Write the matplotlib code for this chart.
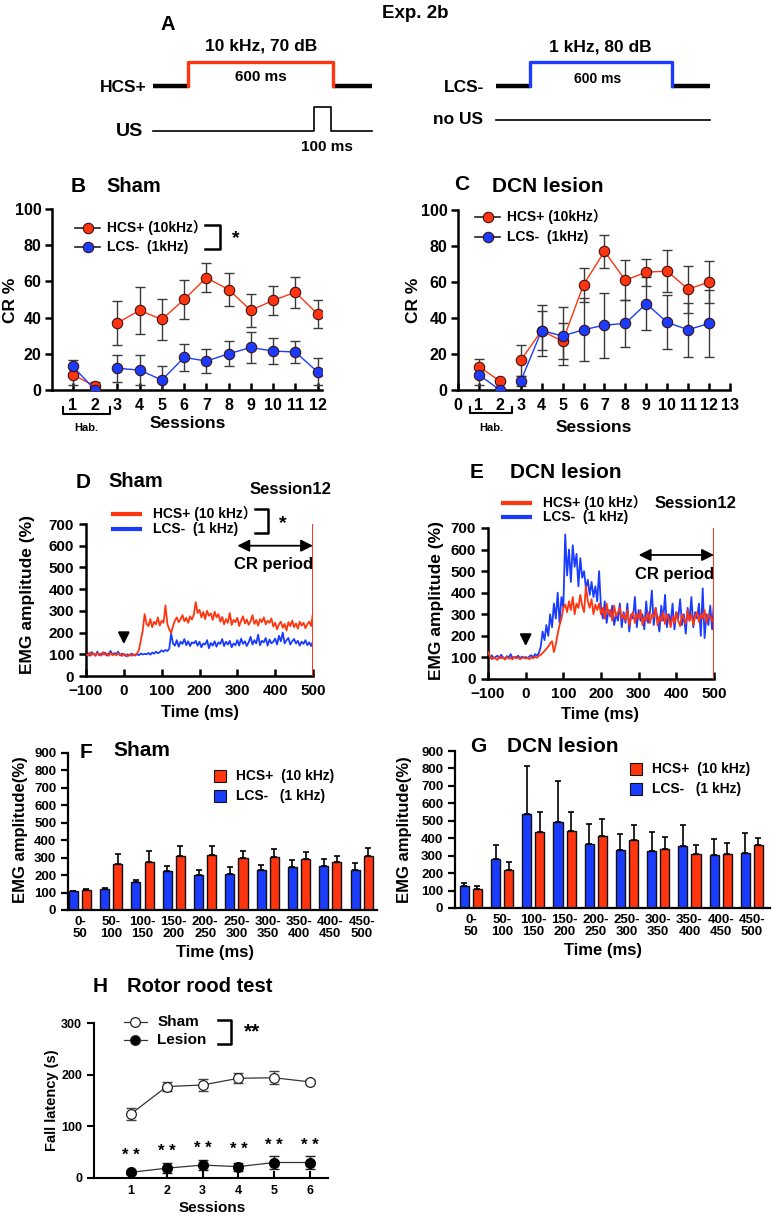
import matplotlib
matplotlib.use("Agg")
import matplotlib.pyplot as plt
from matplotlib.patches import Rectangle
import numpy as np

W, H = 772, 1217
RED = "#ff3510"
BLUE = "#1a3cff"

plt.rcParams["font.family"] = ["Liberation Sans", "Noto Sans CJK JP", "DejaVu Sans"]
plt.rcParams["font.weight"] = "bold"
plt.rcParams["axes.labelweight"] = "bold"

# --- A: stimulus timing (ms)
TONE_ON, TONE_OFF = 0, 600
US_ON, US_OFF = 520, 590
PRE, POST = 145, 160

# --- B / C: CR % per session
SESSIONS = list(range(1, 13))
SHAM_HCS = [8.5, 2, 37, 44, 39, 50, 62, 55.5, 44, 49.5, 54, 42]
SHAM_HCS_SE = [5.5, 2.5, 12, 13, 11.5, 10.5, 8, 9, 9, 8, 8.5, 7.5]
SHAM_LCS = [13, 0, 12, 11, 5.5, 18, 16, 20, 23.5, 21.5, 21, 10]
SHAM_LCS_SE = [3.5, 0, 7.5, 8.5, 7.5, 7.5, 6.5, 6.8, 8.5, 7, 6, 7.5]
DCN_HCS = [13, 5, 16.5, 33, 27, 58.5, 77, 61, 65.5, 66, 56, 60]
DCN_HCS_SE = [4, 0, 8.5, 14, 10, 9.5, 9, 11, 7.5, 11.5, 13, 11.5]
DCN_LCS = [8.5, 0, 5, 33, 30, 33.5, 36, 37, 48, 37.5, 33.5, 37]
DCN_LCS_SE = [5.5, 0, 3, 11, 16, 17.5, 18, 13, 14.5, 15, 15, 18.5]

# --- D / E: EMG traces, session 12, every 5 ms from -100 to 500
T = np.arange(-100, 505, 5)
D_HCS = [100, 95, 108, 97, 104, 92, 106, 99, 94, 110, 98, 103, 93, 107, 96, 101, 95, 105, 99, 92,
         102, 96, 90, 98, 93, 100, 97, 104,
         120, 165, 210, 285,
         240, 230, 262, 225, 250, 238, 270, 232, 255, 245, 325, 240, 215, 198,
         230, 255, 270, 248, 262, 280, 252, 268, 245, 275, 260, 282,
         340, 290, 305, 270, 295, 262, 300, 278, 288, 258, 296, 270, 285,
         250, 272, 238, 262, 245, 290, 235, 258, 248, 268, 230, 255, 275, 242, 260, 236, 252, 280,
         240, 258, 232, 262, 248, 270, 238, 255, 245, 265,
         228, 245, 215, 238, 250, 222, 240, 210, 248, 230, 255, 225, 242, 218, 250, 232, 245, 220,
         238, 250, 230,
         290]
D_LCS = [98, 105, 93, 110, 100, 96, 112, 95, 104, 99, 108, 94, 102, 115, 97, 106, 100, 112, 95, 103,
         98, 92, 100, 95, 103, 97, 94, 101, 96, 104, 99, 102,
         100, 106, 98, 108, 103, 112, 105, 110, 118, 112, 120, 115, 125,
         195, 150, 140, 165, 135, 158, 148, 170, 142, 160, 138, 155, 150,
         162, 140, 158, 132, 150, 145, 165, 128, 152, 140, 160, 135, 155, 148, 170, 138, 158, 145,
         162, 132, 150, 142, 165,
         140, 172, 148, 160, 138, 155, 180, 145, 165, 150, 190, 142, 162, 155, 175, 140, 168, 150,
         158, 172, 145, 185, 160, 200, 150, 165, 175, 145, 160, 170, 150, 162, 140, 158, 148, 165,
         142, 155, 138, 160]
E_HCS = [125, 105, 92, 100, 95, 88, 104, 96, 99, 90, 102, 94, 98, 91, 103, 95, 100, 92, 97, 101,
         95, 99, 92, 100, 96, 103, 98, 108, 112, 120,
         130, 140, 150, 165, 175, 125, 160, 210, 250, 280,
         330, 345, 310, 360, 320, 380, 300, 350, 330, 390, 340, 310, 430, 360, 330, 370, 300, 345,
         320, 350,
         300, 330, 280, 350, 300, 320, 270, 340, 290, 310, 330, 280,
         300, 270, 320, 250, 290, 310, 260, 300, 280, 320, 250, 290, 270, 310, 260, 300, 285, 330,
         250, 290, 270, 310, 255, 300, 280, 240, 290, 260, 310, 270, 245, 300, 280, 255, 320, 270,
         300, 250, 290, 310, 265, 300, 280, 320, 260, 300, 290, 270, 280]
E_LCS = [105, 98, 110, 95, 102, 108, 96, 112, 100, 94, 106, 99, 115, 97, 103, 100, 108, 95, 104, 98,
         102, 96, 105, 110, 100, 115, 108, 120,
         150, 220, 180, 250, 200, 300, 240, 350, 280, 400, 260, 380, 330,
         670, 480, 600, 450, 620, 520, 580, 430, 560, 470, 500, 420, 460, 390, 450, 380, 430, 360, 500,
         330, 280, 360, 260, 320, 290, 340, 250, 300, 270, 350, 240,
         310, 260, 350, 220, 300, 280, 380, 240, 320, 270, 300, 230, 360, 260, 310, 410, 250, 330,
         280, 220, 340, 270, 390, 240, 300, 260, 350, 230, 310, 280, 370, 250, 300, 210, 330, 270,
         380, 240, 310, 280, 350, 200, 420, 190, 300, 250, 340, 230, 360]

# --- F / G: mean EMG per 50 ms bin (upper SE)
BINS = ["0-\n50", "50-\n100", "100-\n150", "150-\n200", "200-\n250",
        "250-\n300", "300-\n350", "350-\n400", "400-\n450", "450-\n500"]
F_LCS = [107, 122, 158, 221, 200, 204, 229, 244, 251, 227]
F_LCS_SE = [2, 3, 13, 30, 29, 40, 28, 40, 44, 40]
F_HCS = [116, 263, 274, 309, 314, 297, 301, 290, 274, 307]
F_HCS_SE = [2, 57, 65, 57, 52, 44, 46, 40, 36, 51]
G_LCS = [128, 280, 538, 492, 366, 335, 326, 354, 305, 316]
G_LCS_SE = [14, 84, 276, 238, 115, 92, 111, 121, 93, 113]
G_HCS = [111, 215, 435, 443, 414, 387, 337, 307, 310, 360]
G_HCS_SE = [14, 47, 117, 109, 94, 86, 71, 55, 62, 44]

# --- H: rotor rod
ROTOR_SESSIONS = [1, 2, 3, 4, 5, 6]
ROTOR_SHAM = [124, 177, 180, 193, 194, 186]
ROTOR_SHAM_SE = [11.5, 9, 12, 10, 13, 3]
ROTOR_LESION = [11, 19, 25, 22, 30, 30]
ROTOR_LESION_SE = [3, 10, 9, 8, 12, 12]

fig = plt.figure(figsize=(W / 100, H / 100), dpi=100)


def px_axes(l, t, r, b):
    return fig.add_axes([l / W, 1 - b / H, (r - l) / W, (b - t) / H])


def ftext(x, y, s, **kw):
    kw.setdefault("va", "center")
    kw.setdefault("ha", "center")
    fig.text(x / W, 1 - y / H, s, **kw)


def style(ax, lw=1.8, ysize=10, xsize=10, xpad=3, ypad=3.5):
    for s in ["top", "right"]:
        ax.spines[s].set_visible(False)
    for s in ["left", "bottom"]:
        ax.spines[s].set_linewidth(lw)
    ax.tick_params(axis="y", direction="out", width=lw, length=5, labelsize=ysize, pad=ypad)
    ax.tick_params(axis="x", direction="in", width=lw, length=5, labelsize=xsize, pad=xpad)


# ================= A =================
axL = px_axes(140, 0, 380, 160)
axL.set_xlim(-198.6, 794.4)
axL.set_ylim(160, 0)
axL.axis("off")
axL.plot([-PRE, TONE_ON], [86, 86], "k", lw=3.2, solid_capstyle="butt")
axL.plot([TONE_OFF, TONE_OFF + POST], [86, 86], "k", lw=3.2, solid_capstyle="butt")
axL.plot([TONE_ON, TONE_ON, TONE_OFF, TONE_OFF], [86, 62, 62, 86], color=RED, lw=2.4)
axL.plot([-PRE, US_ON, US_ON, US_OFF, US_OFF, TONE_OFF + POST],
         [131, 131, 107, 107, 131, 131], "k", lw=1.2)

axR = px_axes(480, 0, 730, 160)
axR.set_xlim(-211.2, 845)
axR.set_ylim(160, 0)
axR.axis("off")
axR.plot([-PRE, TONE_ON], [86, 86], "k", lw=3.2, solid_capstyle="butt")
axR.plot([TONE_OFF, TONE_OFF + POST], [86, 86], "k", lw=3.2, solid_capstyle="butt")
axR.plot([TONE_ON, TONE_ON, TONE_OFF, TONE_OFF], [86, 62, 62, 86], color=BLUE, lw=2.4)
axR.plot([-PRE, TONE_OFF + POST], [120, 120], "k", lw=1.2)

ftext(415, 13, "Exp. 2b", fontsize=13.5)
ftext(168, 24, "A", fontsize=14.5)
ftext(261, 46, "10 kHz, 70 dB", fontsize=12.5)
ftext(261, 77, "600 ms", fontsize=11)
ftext(147, 88, "HCS+", fontsize=12.5, ha="right")
ftext(143, 132, "US", fontsize=14, ha="right")
ftext(327, 147, "100 ms", fontsize=11)
ftext(600, 47, "1 kHz, 80 dB", fontsize=12.5)
ftext(598, 79, "600 ms", fontsize=10)
ftext(484, 87, "LCS-", fontsize=12.5, ha="right")
ftext(483, 120, "no US", fontsize=12.5, ha="right")


# ================= B / C =================
def cr_panel(ax, hcs, hcs_se, lcs, lcs_se):
    for vals, se, col in [(hcs, hcs_se, RED), (lcs, lcs_se, BLUE)]:
        ax.errorbar(SESSIONS, vals, yerr=se, fmt="none", ecolor="#3a3a3a",
                    elinewidth=1, capsize=3.5, capthick=1, zorder=2)
        for sl in [slice(0, 2), slice(2, 12)]:
            ax.plot(SESSIONS[sl], vals[sl], "-o", color=col, lw=1, ms=7.5,
                    mfc=col, mec="#401010", mew=0.8, zorder=3)
    ax.set_ylim(0, 100)
    ax.set_yticks([0, 20, 40, 60, 80, 100])


def cr_legend(ax, x0, x1, ys, tx, labels):
    for y, col, lab in zip(ys, [RED, BLUE], labels):
        ax.plot([x0, x1], [y, y], color="#222", lw=1.2, transform=ax.transAxes, clip_on=False)
        ax.plot([(x0 + x1) / 2], [y], "o", ms=7.5, mfc=col, mec="#401010", mew=0.8,
                transform=ax.transAxes, clip_on=False)
        ax.text(tx, y, lab, transform=ax.transAxes, fontsize=10, va="center")


def hab(ax, x0, x1):
    tr = ax.get_xaxis_transform()
    ax.plot([x0, x0, x1, x1], [-0.095, -0.13, -0.13, -0.095], "k", lw=1.5,
            transform=tr, clip_on=False)
    ax.text((x0 + x1) / 2, -0.21, "Hab.", transform=tr, fontsize=8, ha="center", va="center")


axB = px_axes(52, 209, 322, 390)
style(axB, ysize=11.5, xsize=11.5, xpad=6, ypad=2.5)
cr_panel(axB, SHAM_HCS, SHAM_HCS_SE, SHAM_LCS, SHAM_LCS_SE)
axB.set_xlim(0.06, 12.2)
axB.set_xticks(SESSIONS)
cr_legend(axB, 0.085, 0.178, [0.895, 0.79], 0.205, ["HCS+ (10kHz）", "LCS-  (1kHz)"])
axB.plot([0.567, 0.622, 0.622, 0.567], [0.91, 0.91, 0.78, 0.78], "k", lw=1.8,
         transform=axB.transAxes, clip_on=False)
axB.text(0.665, 0.835, "*", transform=axB.transAxes, fontsize=14, va="center")
hab(axB, 0.57, 2.65)
ftext(78, 186, "B", fontsize=15)
ftext(106, 187, "Sham", fontsize=14.5, ha="left")
ftext(11, 300, "CR %", fontsize=12.5, rotation=90)
ftext(188, 424, "Sessions", fontsize=12.5)

axC = px_axes(458, 210, 730, 390)
style(axC, ysize=11.5, xsize=11.5, xpad=6, ypad=2.5)
cr_panel(axC, DCN_HCS, DCN_HCS_SE, DCN_LCS, DCN_LCS_SE)
axC.set_xlim(0, 13)
axC.set_xticks(range(0, 14))
cr_legend(axC, 0.062, 0.155, [0.961, 0.85], 0.18, ["HCS+ (10kHz）", "LCS-  (1kHz)"])
hab(axC, 0.57, 2.6)
ftext(462, 185, "C", fontsize=15)
ftext(492, 186, "DCN lesion", fontsize=15, ha="left")
ftext(414, 300, "CR %", fontsize=12.5, rotation=90)
ftext(594, 428, "Sessions", fontsize=12.5)


# ================= D / E =================
def emg_panel(ax, hcs, lcs, arrow_y):
    ax.plot(T, lcs, color=BLUE, lw=1.3, zorder=2)
    ax.plot(T, hcs, color=RED, lw=1.3, zorder=3)
    ax.axvline(500, color=RED, lw=1.4, zorder=3)
    ax.set_xlim(-100, 500)
    ax.set_ylim(0, 700)
    ax.set_xticks(range(-100, 501, 100))
    ax.set_yticks(range(0, 701, 100))
    ax.annotate("", xy=(0, arrow_y[0]), xytext=(0, arrow_y[1]),
                arrowprops=dict(arrowstyle="-|>", color="k", lw=1.5, mutation_scale=17))


def emg_legend(ax, x0, x1, ys, tx):
    for y, col, lab in zip(ys, [RED, BLUE], ["HCS+ (10 kHz）", "LCS-  (1 kHz)"]):
        ax.plot([x0, x1], [y, y], color=col, lw=3, transform=ax.transAxes, clip_on=False)
        ax.text(tx, y, lab, transform=ax.transAxes, fontsize=10, va="center")


def cr_period(ax, y, ty):
    ax.annotate("", xy=(300, y), xytext=(500, y),
                arrowprops=dict(arrowstyle="<|-|>", color="k", lw=1.3, mutation_scale=18,
                                shrinkA=0, shrinkB=0))
    ax.text(395, ty, "CR period", fontsize=12, ha="center", va="center")


axD = px_axes(86, 524, 313, 676)
style(axD, ysize=11, xsize=11, xpad=6)
emg_panel(axD, D_HCS, D_LCS, (134, 205))
emg_legend(axD, 0.119, 0.238, [1.066, 0.967], 0.295)
axD.plot([0.744, 0.802, 0.802, 0.744], [1.099, 1.099, 0.941, 0.941], "k", lw=1.8,
         transform=axD.transAxes, clip_on=False)
axD.text(0.85, 1.0, "*", transform=axD.transAxes, fontsize=14, va="center")
cr_period(axD, 600, 512)
ftext(83, 483, "D", fontsize=15)
ftext(108, 481, "Sham", fontsize=14.5, ha="left")
ftext(290, 490, "Session12", fontsize=12)
ftext(28, 595, "EMG amplitude (%)", fontsize=12.5, rotation=90)
ftext(200, 712, "Time (ms)", fontsize=12)

axE = px_axes(488, 528, 714, 679)
style(axE, ysize=11, xsize=11, xpad=6)
emg_panel(axE, E_HCS, E_LCS, (140, 200))
emg_legend(axE, 0.066, 0.186, [1.166, 1.073], 0.243)
cr_period(axE, 575, 485)
ftext(477, 473, "E", fontsize=15)
ftext(510, 472, "DCN lesion", fontsize=15, ha="left")
ftext(695, 503, "Session12", fontsize=12)
ftext(436, 600, "EMG amplitude (%)", fontsize=12.5, rotation=90)
ftext(600, 715, "Time (ms)", fontsize=12)


# ================= F / G =================
def bar_panel(ax, lcs, lcs_se, hcs, hcs_se):
    x = np.arange(len(BINS))
    ekw = dict(ecolor="k", elinewidth=1.2, capsize=2.5, capthick=1.2)
    ax.bar(x - 0.21, lcs, width=0.29, color=BLUE, edgecolor="#111", lw=1,
           yerr=[np.zeros(len(x)), lcs_se], error_kw=ekw, zorder=2)
    ax.bar(x + 0.21, hcs, width=0.29, color=RED, edgecolor="#111", lw=1,
           yerr=[np.zeros(len(x)), hcs_se], error_kw=ekw, zorder=2)
    ax.set_ylim(0, 900)
    ax.set_yticks(range(0, 901, 100))
    ax.set_xticks(x)
    ax.set_xticklabels(BINS, linespacing=1.0)
    ax.tick_params(axis="x", length=0, labelsize=9.5, pad=4)
    ax.tick_params(axis="y", labelsize=9.5)


def bar_legend(ax, x0, w, ys, hgt, tx):
    for y, col, lab in zip(ys, [RED, BLUE], ["HCS+  (10 kHz)", "LCS-   (1 kHz)"]):
        ax.add_patch(Rectangle((x0, y - hgt / 2), w, hgt, facecolor=col, edgecolor="#111",
                               lw=0.8, transform=ax.transAxes, clip_on=False))
        ax.text(tx, y, lab, transform=ax.transAxes, fontsize=10, va="center")


axF = px_axes(68, 753, 377, 910)
style(axF, lw=1.6)
bar_panel(axF, F_LCS, F_LCS_SE, F_HCS, F_HCS_SE)
axF.set_xlim(-0.38, 9.49)
bar_legend(axF, 0.472, 0.039, [0.853, 0.726], 0.072, 0.545)
ftext(86, 753, "F", fontsize=15)
ftext(113, 751, "Sham", fontsize=15, ha="left")
ftext(21, 830, "EMG amplitude(%)", fontsize=12, rotation=90)
ftext(215, 952, "Time (ms)", fontsize=12)

axG = px_axes(455, 751, 770, 908)
style(axG, lw=1.6)
bar_panel(axG, G_LCS, G_LCS_SE, G_HCS, G_HCS_SE)
axG.set_xlim(-0.51, 9.58)
bar_legend(axG, 0.556, 0.038, [0.885, 0.758], 0.076, 0.625)
ftext(478, 747, "G", fontsize=15)
ftext(507, 746, "DCN lesion", fontsize=15, ha="left")
ftext(405, 830, "EMG amplitude(%)", fontsize=12, rotation=90)
ftext(603, 950, "Time (ms)", fontsize=12)

# ================= H =================
axH = px_axes(94, 1023, 328, 1178)
style(axH, lw=1.5, ysize=9, xsize=9, xpad=5)
axH.errorbar(ROTOR_SESSIONS, ROTOR_SHAM, yerr=ROTOR_SHAM_SE, fmt="none", ecolor="#444",
             elinewidth=1, capsize=3.5, capthick=1, zorder=2)
axH.errorbar(ROTOR_SESSIONS, ROTOR_LESION, yerr=ROTOR_LESION_SE, fmt="none", ecolor="#222",
             elinewidth=1, capsize=3.5, capthick=1, zorder=2)
axH.plot(ROTOR_SESSIONS, ROTOR_SHAM, "-o", color="#333", lw=0.9, ms=7, mfc="white",
         mec="#222", mew=0.9, zorder=3)
axH.plot(ROTOR_SESSIONS, ROTOR_LESION, "-o", color="#333", lw=0.9, ms=7, mfc="black",
         mec="black", zorder=3)
for s, v in zip(ROTOR_SESSIONS, ROTOR_LESION):
    axH.text(s, v + 33, "* *", fontsize=12, ha="center", va="center")
axH.set_xlim(-0.03, 6.5)
axH.set_ylim(0, 300)
axH.set_xticks(ROTOR_SESSIONS)
axH.set_yticks([0, 100, 200, 300])
for y, fc, lab in [(1.006, "white", "Sham"), (0.89, "black", "Lesion")]:
    axH.plot([0.13, 0.225], [y, y], color="#333", lw=0.9, transform=axH.transAxes, clip_on=False)
    axH.plot([0.177], [y], "o", ms=7, mfc=fc, mec="#222", mew=0.9,
             transform=axH.transAxes, clip_on=False)
    axH.text(0.27, y, lab, transform=axH.transAxes, fontsize=11, va="center")
axH.plot([0.53, 0.585, 0.585, 0.53], [1.02, 1.02, 0.865, 0.865], "k", lw=1.8,
         transform=axH.transAxes, clip_on=False)
axH.text(0.64, 0.94, "**", transform=axH.transAxes, fontsize=15, va="center")
ftext(100, 987, "H", fontsize=15)
ftext(127, 987, "Rotor rood test", fontsize=14.5, ha="left")
ftext(52, 1100, "Fall latency (s)", fontsize=10.5, rotation=90)
ftext(212, 1208, "Sessions", fontsize=11)

fig.savefig("out.png", dpi=100)
